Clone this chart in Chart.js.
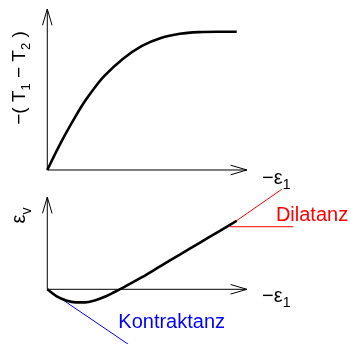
<!DOCTYPE html>
<html>
<head>
<meta charset="utf-8">
<script src="https://cdn.jsdelivr.net/npm/chart.js@4/dist/chart.umd.min.js"></script>
<style>
  html, body { margin: 0; padding: 0; background: #fff; }
  #wrap { position: relative; width: 351px; height: 344px; }
</style>
</head>
<body>
<div id="wrap"><canvas id="diagram" width="351" height="344"></canvas></div>
<script>
// upper diagram: deviator stress over axial strain
const strainX = [0, 0.5, 1, 1.5, 2, 2.5, 3, 4, 5, 6, 7, 8, 9, 10];
const deviatorStress = [0, 0.14, 0.27, 0.39, 0.5, 0.595, 0.678, 0.805, 0.898, 0.955, 0.985, 0.997, 1.0, 1.0];

// lower diagram: volumetric strain over axial strain
const volStrainX = [0, 0.5, 1, 1.5, 2, 2.5, 3, 3.5, 4, 5, 6, 7, 8, 9, 10];
const volStrain = [0, -0.37, -0.59, -0.69, -0.69, -0.59, -0.41, -0.17, 0.09, 0.64, 1.24, 1.83, 2.43, 3.02, 3.62];

// tangent lines and marker
const dilatanzX = [9.5, 12.38];
const dilatanzY = [3.28, 5.28];
const dilatanzMarkX = [9.65, 12.99];
const dilatanzMarkY = [3.305, 3.305];
const kontraktanzX = [0, 4.3];
const kontraktanzY = [0, -2.92];

// labels
const topYLabel = [['−( ', false], ['T', false], ['1', true], [' − ', false], ['T', false], ['2', true], [' )', false]];
const bottomYLabel = [['ε', false], ['v', true]];
const xLabel = [['−ε', false], ['1', true]];
const dilatanzLabel = 'Dilatanz';
const kontraktanzLabel = 'Kontraktanz';

const FONT = '"Liberation Sans", Arial, Helvetica, sans-serif';

function toPoints(xs, ys) {
  return xs.map((x, i) => ({ x: x, y: ys[i] }));
}

// draw a run of text pieces, subscripts smaller and lowered
function drawRuns(ctx, runs, x, y, size, rotate, center) {
  ctx.save();
  ctx.translate(x, y);
  if (rotate) ctx.rotate(-Math.PI / 2);
  const subSize = Math.round(size * 0.7);
  let total = 0;
  runs.forEach(r => {
    ctx.font = (r[1] ? subSize : size) + 'px ' + FONT;
    total += ctx.measureText(r[0]).width;
  });
  let pos = center ? -total / 2 : 0;
  ctx.textBaseline = 'alphabetic';
  ctx.textAlign = 'left';
  runs.forEach(r => {
    ctx.font = (r[1] ? subSize : size) + 'px ' + FONT;
    ctx.fillText(r[0], pos, r[1] ? size * 0.28 : 0);
    pos += ctx.measureText(r[0]).width;
  });
  ctx.restore();
}

function arrow(ctx, x0, y0, x1, y1) {
  const ang = Math.atan2(y1 - y0, x1 - x0);
  const len = 17, spread = Math.atan(5 / 17);
  ctx.beginPath();
  ctx.moveTo(x0, y0);
  ctx.lineTo(x1, y1);
  ctx.moveTo(x1 - len * Math.cos(ang - spread), y1 - len * Math.sin(ang - spread));
  ctx.lineTo(x1, y1);
  ctx.lineTo(x1 - len * Math.cos(ang + spread), y1 - len * Math.sin(ang + spread));
  ctx.stroke();
}

const axesPlugin = {
  id: 'axesArrows',
  beforeDatasetsDraw(chart) {
    const ctx = chart.ctx;
    const x = chart.scales.x, yt = chart.scales.yTop, yb = chart.scales.yBottom;
    ctx.save();
    ctx.strokeStyle = '#000';
    ctx.lineWidth = 1;
    // upper axes
    arrow(ctx, x.getPixelForValue(0), yt.getPixelForValue(0), x.getPixelForValue(0), yt.getPixelForValue(1.164));
    arrow(ctx, x.getPixelForValue(0), yt.getPixelForValue(0), x.getPixelForValue(10.54), yt.getPixelForValue(0));
    // lower axes
    arrow(ctx, x.getPixelForValue(0), yb.getPixelForValue(0), x.getPixelForValue(0), yb.getPixelForValue(4.87));
    arrow(ctx, x.getPixelForValue(0), yb.getPixelForValue(0), x.getPixelForValue(10.54), yb.getPixelForValue(0));
    ctx.restore();
  },
  afterDatasetsDraw(chart) {
    const ctx = chart.ctx;
    const x = chart.scales.x, yt = chart.scales.yTop, yb = chart.scales.yBottom;
    ctx.save();
    ctx.fillStyle = '#000';
    drawRuns(ctx, topYLabel, x.getPixelForValue(-1.18), yt.getPixelForValue(0.665), 19, true, true);
    drawRuns(ctx, bottomYLabel, x.getPixelForValue(-1.18), yb.getPixelForValue(3.9), 20, true, true);
    drawRuns(ctx, xLabel, x.getPixelForValue(11.34), yt.getPixelForValue(-0.1), 20, false, false);
    drawRuns(ctx, xLabel, x.getPixelForValue(11.34), yb.getPixelForValue(-0.655), 20, false, false);
    ctx.fillStyle = '#ff0000';
    drawRuns(ctx, [[dilatanzLabel, false]], x.getPixelForValue(12.07), yb.getPixelForValue(3.62), 20, false, false);
    ctx.fillStyle = '#0000ff';
    drawRuns(ctx, [[kontraktanzLabel, false]], x.getPixelForValue(3.75), yb.getPixelForValue(-2.03), 20, false, false);
    ctx.restore();
  }
};

const lineStyle = { showLine: true, pointRadius: 0, fill: false, clip: false };

new Chart(document.getElementById('diagram'), {
  type: 'scatter',
  data: {
    datasets: [
      Object.assign({ data: toPoints(strainX, deviatorStress), yAxisID: 'yTop', borderColor: '#000', borderWidth: 2.6, cubicInterpolationMode: 'monotone' }, lineStyle),
      Object.assign({ data: toPoints(volStrainX, volStrain), yAxisID: 'yBottom', borderColor: '#000', borderWidth: 2.6, cubicInterpolationMode: 'monotone' }, lineStyle),
      Object.assign({ data: toPoints(dilatanzX, dilatanzY), yAxisID: 'yBottom', borderColor: '#ff0000', borderWidth: 1 }, lineStyle),
      Object.assign({ data: toPoints(dilatanzMarkX, dilatanzMarkY), yAxisID: 'yBottom', borderColor: '#ff0000', borderWidth: 1 }, lineStyle),
      Object.assign({ data: toPoints(kontraktanzX, kontraktanzY), yAxisID: 'yBottom', borderColor: '#0000ff', borderWidth: 1 }, lineStyle)
    ]
  },
  options: {
    responsive: false,
    animation: false,
    devicePixelRatio: 1,
    layout: { padding: 0 },
    plugins: { legend: { display: false }, tooltip: { enabled: false } },
    events: [],
    scales: {
      x: { type: 'linear', display: false, min: -2.497, max: 16.035 },
      yTop: { type: 'linear', display: false, min: -1.258, max: 1.229 },
      yBottom: { type: 'linear', display: false, min: -2.888, max: 15.275 }
    }
  },
  plugins: [axesPlugin]
});
</script>
</body>
</html>
